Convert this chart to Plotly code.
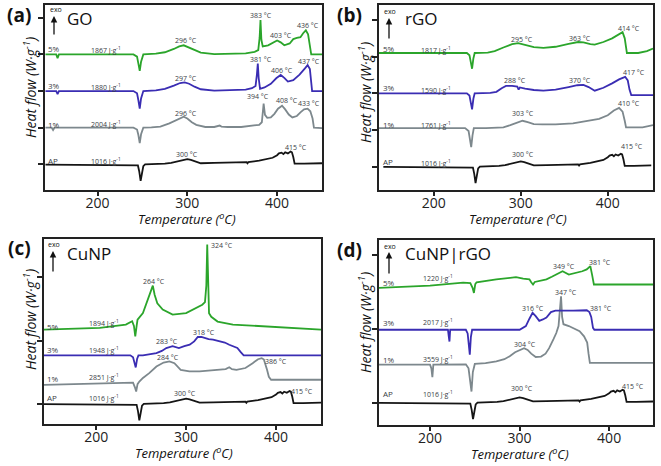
import plotly.graph_objects as go

# ---------------- data: (Temperature degC, heat flow a.u. relative to own baseline) ----------------
AP = [(142,-0.01),(240,-0.01),(245,-0.03),(246.5,-0.2),(248,-0.45),(249.5,-0.25),(251,-0.05),(253,0.0),(260,0.0),
      (275,0.02),(282,0.04),(290,0.08),(296,0.12),(300,0.14),(304,0.12),(308,0.08),(315,0.03),(330,0.04),(345,0.05),
      (360,0.06),(366,0.06),(367,0.03),(368,0.06),(380,0.1),(390,0.14),(395,0.18),(400,0.25),(402,0.3),(405,0.32),
      (407,0.28),(409,0.33),(412,0.3),(415,0.35),(416.5,0.33),(418,0.2),(419.5,0.02),(430,0.02),(450,0.03)]

GO_1 = [(142,0),(149,0),(150.5,-0.06),(152,0),(240,0),(244,-0.05),(245.5,-0.2),(247,-0.42),(248.5,-0.18),(251,0),
        (260,0.01),(270,0.03),(280,0.12),(288,0.22),(296,0.3),(300,0.25),(305,0.15),(310,0.08),(320,0.02),(330,0.02),
        (334,0.04),(336,0.06),(338,0.03),(345,0.02),(360,0.02),(375,0.05),(380,0.08),(383,0.15),(384,0.45),(385,0.66),
        (386.5,0.35),(389,0.27),(393,0.28),(397,0.38),(401,0.52),(405.5,0.6),(409,0.5),(413,0.36),(417,0.28),(422,0.32),
        (426,0.42),(430,0.5),(434,0.52),(437,0.45),(439.5,0.25),(441,0.0),(450,-0.01)]
GO_3 = [(142,0),(154,0),(155.5,-0.08),(157,0),(240,0),(244,-0.06),(245.5,-0.25),(247,-0.48),(248.5,-0.2),(251,0),
        (265,0.02),(275,0.06),(285,0.15),(292,0.22),(297,0.24),(302,0.2),(308,0.12),(315,0.05),(330,0.01),(350,0.02),
        (365,0.04),(372,0.08),(376,0.14),(377.5,0.45),(378.5,0.75),(379.5,0.35),(381,0.06),(386,0.1),(393,0.2),
        (399,0.35),(404,0.44),(408,0.36),(412,0.26),(418,0.3),(425,0.45),(431,0.62),(434,0.71),(436.5,0.6),(438,0.3),
        (439,0.0),(450,0.0)]
GO_5 = [(142,0),(154,0),(155.5,-0.1),(157,0),(240,0),(244,-0.06),(245.5,-0.25),(247,-0.45),(248.5,-0.2),(251,0),
        (265,0.02),(275,0.06),(285,0.15),(291,0.22),(296,0.25),(301,0.2),(308,0.12),(315,0.05),(330,0.01),(350,0.01),
        (365,0.03),(375,0.07),(379,0.12),(380.5,0.45),(381.5,0.94),(382.5,0.4),(384,0.22),(390,0.25),(396,0.33),
        (400,0.38),(404,0.33),(408,0.25),(414,0.3),(418,0.42),(422,0.45),(426,0.47),(429,0.58),(432,0.66),(434.5,0.55),
        (436.5,0.25),(438,0.0),(450,0.0)]

rGO_1 = [(137,0),(236,0),(240,-0.08),(241.5,-0.3),(243,-0.52),(244.5,-0.2),(246,0),(260,0.0),(280,0.02),(288,0.08),
         (295,0.15),(302,0.2),(308,0.16),(315,0.11),(325,0.1),(340,0.1),(360,0.13),(380,0.2),(390,0.25),(400,0.35),
         (407,0.48),(413,0.55),(417,0.45),(419.5,0.2),(421,0.02),(440,0.02),(452,0.08)]
rGO_3 = [(137,0),(238,0),(241,-0.06),(242.5,-0.25),(244,-0.44),(245.5,-0.15),(247,0),(265,0.01),(272,0.04),(278,0.14),
         (283,0.2),(290,0.2),(296,0.18),(297.5,0.1),(299,0.16),(305,0.13),(315,0.09),(326,0.07),(340,0.1),(355,0.17),
         (365,0.22),(372,0.23),(378,0.17),(385,0.07),(395,0.15),(405,0.27),(413,0.38),(420,0.45),(423,0.35),(425,0.1),
         (427,-0.05),(452,-0.05)]
rGO_5 = [(137,0),(238,0),(241,-0.06),(242.5,-0.25),(244,-0.43),(245.5,-0.15),(247,0),(262,0.01),(270,0.05),(280,0.15),
         (290,0.24),(297,0.27),(305,0.22),(315,0.16),(326,0.14),(340,0.17),(355,0.25),(366,0.3),(372,0.29),(380,0.24),
         (385,0.23),(395,0.3),(405,0.4),(412,0.5),(417,0.57),(419.5,0.4),(421,0.1),(422,0.0),(435,0.0),(445,0.05),
         (452,0.12)]

CuNP_1 = [(142,-0.14),(204,-0.09),(237,-0.07),(241,-0.08),(243,-0.2),(244.5,-0.32),(246,-0.12),(248,-0.05),(252,0.05),
          (259,0.18),(267,0.36),(275,0.47),(281.5,0.5),(287,0.45),(294,0.27),(303.7,0.23),(315,0.23),(333,0.27),
          (344,0.29),(348,0.34),(351,0.29),(356,0.27),(366,0.32),(374,0.45),(380,0.56),(384,0.59),(386.5,0.55),
          (390,0.27),(392,0.08),(394.5,0.0),(450,0.0)]
CuNP_3 = [(142,0),(238,0),(241,-0.05),(242.5,-0.2),(244,-0.33),(245.5,-0.1),(247,0),(252,0),(260,0.03),(267,0.06),
          (273,0.12),(278,0.2),(285,0.25),(292,0.2),(298,0.25),(304,0.29),(309,0.38),(313,0.5),(317,0.5),(320,0.48),
          (325,0.44),(330,0.43),(337,0.38),(343,0.35),(348,0.29),(353,0.25),(357,0.2),(361,0.08),(364,0.0),(450,0.0)]
CuNP_5 = [(142,0),(204,0.05),(233,0.14),(240,0.23),(242,0.1),(243.5,-0.18),(245,0.1),(246,0.27),(252,0.45),(257,0.82),
          (261,1.05),(263,1.2),(265,0.95),(268,0.72),(274,0.55),(285,0.41),(300,0.45),(311,0.59),(318,0.68),(321,0.75),
          (322.5,1.2),(323.5,2.32),(324.5,1.5),(325.5,0.45),(328,0.35),(335,0.22),(352,0.14),(380,0.1),(407,0.05),
          (450,0.0)]

CuNPrGO_1 = [(143,0),(200,0),(201.5,-0.1),(202.6,-0.34),(203.7,0),(240,0.01),(243,-0.1),(244.8,-0.45),(246.3,-0.73),
             (247.8,-0.2),(250,0.02),(262,0.04),(274,0.09),(283,0.15),(289,0.23),(295,0.34),(300,0.4),(305,0.45),
             (309,0.4),(313,0.3),(318,0.21),(324,0.22),(329,0.3),(333,0.45),(338,0.7),(341,0.86),(343.5,1.05),
             (345,1.4),(346.3,1.86),(347.5,1.3),(349,1.1),(355,1.05),(361,0.98),(367,0.91),(372,0.77),(375.5,0.6),
             (377,0.3),(378.5,0.05),(450,0.05)]
CuNPrGO_3 = [(143,0),(220,0),(221,-0.2),(221.7,-0.32),(222.5,0),(240,0),(242,-0.1),(243.3,-0.5),(244.4,-0.68),
             (245.6,-0.2),(247,0),(300,0.0),(304,0.05),(307,0.1),(311,0.3),(314.5,0.46),(318,0.37),(322,0.24),
             (326,0.28),(330,0.33),(335,0.48),(340,0.52),(360,0.52),(375,0.53),(378,0.48),(380,0.35),(382,0.05),
             (383.5,0.0),(450,0.0)]
CuNPrGO_5 = [(143,0),(200,0.06),(237,0.14),(245,0.13),(247.5,0.0),(249,-0.14),(250.5,0.1),(252,0.15),(274,0.23),
             (286,0.27),(296,0.29),(304,0.25),(311,0.23),(313,0.15),(315,0.09),(317,0.16),(320,0.18),(330,0.23),
             (336,0.3),(341,0.36),(348,0.45),(355,0.36),(362,0.4),(370,0.45),(375,0.5),(379,0.59),(381,0.35),
             (383,0.09),(450,0.09)]

X_TICKS = [200, 300, 400]

# ---------------- styling / layout ----------------
W, H = 661, 466
FONT = "Open Sans"
COL = {"AP": "#151515", "1": "#7d888d", "3": "#3a2db3", "5": "#2ba52b"}
LBL = "#3a4045"

def px(x):
    return x / W

def py(y):
    return 1 - y / H

panels = [
    dict(key="", x0=45, x1=322, y0=5, y1=190, xr=[141.5, 450], yr=[-0.70, 4.35], yt=[0, 1, 2, 3, 4],
         curves=[(AP, "AP", 0.0), (GO_1, "1", 1.0), (GO_3, "3", 2.0), (GO_5, "5", 3.0)]),
    dict(key="2", x0=379, x1=653, y0=5, y1=190, xr=[137, 452], yr=[-0.64, 4.41], yt=[0, 1, 2, 3, 4],
         curves=[(AP, "AP", 0.0), (rGO_1, "1", 1.05), (rGO_3, "3", 2.0), (rGO_5, "5", 3.1)]),
    dict(key="3", x0=44, x1=321, y0=239, y1=424, xr=[142, 450], yr=[-0.55, 4.49], yt=[0, 1.72, 3.45],
         curves=[(AP, "AP", 0.0), (CuNP_1, "1", 0.655), (CuNP_3, "3", 1.32), (CuNP_5, "5", 2.02)]),
    dict(key="4", x0=379, x1=653, y0=240, y1=425, xr=[143, 449], yr=[-0.61, 4.42], yt=[0, 2, 4],
         curves=[(AP, "AP", 0.0), (CuNPrGO_1, "1", 1.03), (CuNPrGO_3, "3", 1.98), (CuNPrGO_5, "5", 3.12)]),
]

fig = go.Figure()
layout = dict(width=W, height=H, margin=dict(l=0, r=0, t=0, b=0), paper_bgcolor="white",
              plot_bgcolor="white", showlegend=False, font=dict(family=FONT, color="#222"))

for p in panels:
    k = p["key"]
    for data, c, off in p["curves"]:
        fig.add_trace(go.Scatter(x=[d[0] for d in data], y=[d[1] + off for d in data], mode="lines",
                                 line=dict(color=COL[c], width=1.8), xaxis="x" + k, yaxis="y" + k,
                                 hoverinfo="skip"))
    layout["xaxis" + k] = dict(domain=[px(p["x0"]), px(p["x1"])], range=p["xr"], anchor="y" + k,
                               showline=True, mirror=True, linewidth=2, linecolor="#222", showgrid=False,
                               zeroline=False, ticks="outside", ticklen=4, tickwidth=1.5, tickcolor="#222",
                               tickvals=X_TICKS, ticklabelstandoff=-5,
                               tickfont=dict(size=14, family=FONT, color="#222"))
    layout["yaxis" + k] = dict(domain=[py(p["y1"]), py(p["y0"])], range=p["yr"], anchor="x" + k,
                               showline=True, mirror=True, linewidth=2, linecolor="#222", showgrid=False,
                               zeroline=False, ticks="outside", ticklen=5, tickwidth=1.5, tickcolor="#222",
                               tickvals=p["yt"], showticklabels=False)

fig.update_layout(**layout)

ann = []

def lab(k, x, y, t, size=7, anchor="center"):
    ann.append(dict(xref="x" + k, yref="y" + k, x=x, y=y, text=t, showarrow=False, xanchor=anchor,
                    yanchor="middle", font=dict(size=size, color=LBL, family=FONT)))

def J(v):
    return f"{v} J·g<sup>-1</sup>"

def C(v):
    return f"{v} °C"

# panel (a)
for y, t in [(3.15, "5%"), (2.14, "3%"), (1.1, "1%"), (0.1, "AP")]:
    lab("", 143, y, t, 8, "left")
for y, v in [(3.12, 1867), (2.1, 1880), (1.1, 2004), (0.1, 1016)]:
    lab("", 209, y, J(v))
for x, y, v in [(298, 3.39, 296), (382, 4.05, 383), (404, 3.53, 403), (434, 3.8, 436),
                (298, 2.35, 297), (382, 2.86, 381), (406, 2.55, 406), (436, 2.8, 437),
                (298, 1.39, 296), (378.5, 1.85, 394), (411, 1.75, 408), (436, 1.65, 433),
                (300, 0.28, 300), (421, 0.46, 415)]:
    lab("", x, y, C(v))

# panel (b)
for y, t in [(3.23, "5%"), (2.16, "3%"), (1.16, "1%"), (0.15, "AP")]:
    lab("2", 139, y, t, 8, "left")
for y, v in [(3.18, 1817), (2.1, 1590), (1.14, 1761), (0.11, 1016)]:
    lab("2", 203, y, J(v))
for x, y, v in [(301, 3.47, 295), (368, 3.5, 363), (424, 3.77, 414),
                (293, 2.36, 288), (368, 2.36, 370), (430, 2.56, 417),
                (303, 1.44, 303), (424, 1.71, 410),
                (302, 0.32, 300), (428, 0.55, 415)]:
    lab("2", x, y, C(v))

# panel (c)
for y, t in [(2.11, "5%"), (1.47, "3%"), (0.7, "1%"), (0.18, "AP")]:
    lab("3", 143, y, t, 8, "left")
for y, v in [(2.2, 1894), (1.47, 1948), (0.73, 2851), (0.15, 1016)]:
    lab("3", 209, y, J(v))
for x, y, v in [(264, 3.34, 264), (279, 1.7, 283), (320, 1.95, 318),
                (280, 1.26, 284), (400, 1.15, 386), (299, 0.27, 300), (429, 0.34, 415)]:
    lab("3", x, y, C(v))
lab("3", 325.2, 4.32, C(324), 7, "left")

# panel (d)
for y, t in [(3.27, "5%"), (2.18, "3%"), (1.18, "1%"), (0.24, "AP")]:
    lab("4", 145, y, t, 8, "left")
for y, v in [(3.39, 1220), (2.18, 2017), (1.18, 3559), (0.24, 1016)]:
    lab("4", 209, y, J(v))
for x, y, v in [(350, 3.71, 349), (390, 3.82, 381), (315, 2.57, 316), (352, 3.0, 347), (391, 2.55, 381),
                (305.5, 1.57, 304), (303, 0.39, 300), (427, 0.45, 415)]:
    lab("4", x, y, C(v))

# panel letters, sample names, exo arrows, axis titles (paper coords from pixel positions)
def ptext(x, y, t, size, anchor="center", angle=0, bold=False):
    ann.append(dict(xref="paper", yref="paper", x=px(x), y=py(y), text=t, showarrow=False, xanchor=anchor,
                    yanchor="middle", textangle=angle,
                    font=dict(size=size, color="#111", family=FONT, weight="bold" if bold else "normal")))

for (lx, ly, letter), (nx, ny, name), (ax_, tip, tail, ex, ey) in [
        ((19, 15, "(a)"), (65, 18, "GO"), (54, 16, 36, 56, 9)),
        ((349, 15, "(b)"), (403, 18, "rGO"), (389, 18, 40, 390, 11)),
        ((19, 248, "(c)"), (65, 253, "CuNP"), (53, 251, 273, 54, 245)),
        ((349, 250, "(d)"), (403, 253, "CuNP|rGO"), (389, 252, 275, 390, 246))]:
    ptext(lx, ly, letter, 19, bold=True)
    ptext(nx, ny, name, 17, "left")
    ptext(ex, ey, "exo", 7)
    ann.append(dict(xref="paper", yref="paper", x=px(ax_), y=py(tip), ax=0, ay=tail - tip, text="",
                    showarrow=True, arrowhead=2, arrowsize=1, arrowwidth=1.3, arrowcolor="#111",
                    standoff=0, startstandoff=0))

for x, y in [(30, 88), (365, 92), (30, 320), (365, 322)]:
    ptext(x, y, "<i>Heat flow (W·g<sup>-1</sup>)</i>", 14, angle=-90)
for x, y in [(187, 218), (518, 218), (184, 452.5), (520, 453.5)]:
    ptext(x, y, "<i>Temperature (<sup>o</sup>C)</i>", 13)

fig.update_layout(annotations=ann)
fig.write_html("out.html", config={"displayModeBar": False},
               post_script="document.body.style.margin='0';")
